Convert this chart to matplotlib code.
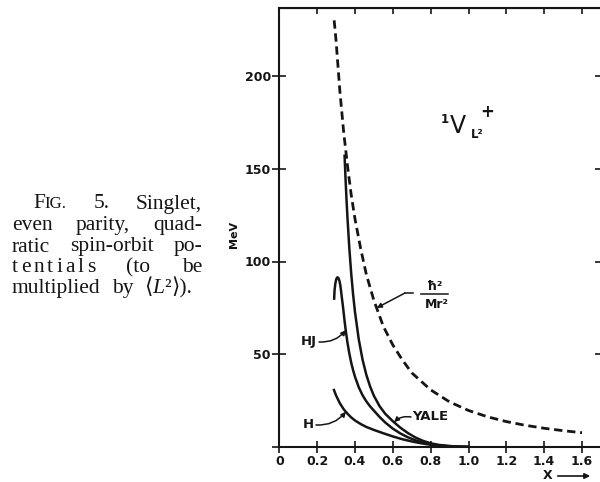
import matplotlib
matplotlib.use("Agg")
import matplotlib.pyplot as plt

# ---------------- data ----------------
free_x = [0.29, 0.30, 0.32, 0.34, 0.36, 0.38, 0.40, 0.43, 0.46, 0.50, 0.55, 0.60,
          0.65, 0.70, 0.80, 0.90, 1.00, 1.10, 1.20, 1.30, 1.40, 1.50, 1.60]
free_y = [230, 219, 192, 170, 152, 136, 123, 107, 93, 79, 65, 55,
          47, 40, 30.8, 24.3, 19.7, 16.3, 13.7, 11.7, 10.1, 8.8, 7.7]

yale_x = [0.345, 0.350, 0.355, 0.360, 0.370, 0.380, 0.390, 0.400, 0.420, 0.440, 0.460,
          0.480, 0.500, 0.530, 0.560, 0.600, 0.640, 0.680, 0.720, 0.760, 0.800,
          0.840, 0.880, 0.920, 0.960, 1.000]
yale_y = [157, 144.8, 133.9, 124.1, 107.3, 93.6, 82.3, 72.8, 58.0, 47.1, 38.9,
          32.6, 27.6, 22.0, 17.9, 13.9, 10.4, 7.5, 5.1, 3.3, 2.0,
          1.2, 0.7, 0.4, 0.2, 0.05]

hj_x = [0.290, 0.292, 0.296, 0.301, 0.307, 0.313, 0.318, 0.322, 0.326, 0.330, 0.335,
        0.340, 0.345, 0.350, 0.360, 0.370, 0.380, 0.390, 0.400, 0.420, 0.440, 0.460,
        0.480, 0.500, 0.530, 0.560, 0.600, 0.640, 0.680, 0.720, 0.760, 0.800,
        0.850, 0.900, 0.950, 1.000]
hj_y = [80, 84.5, 88, 90.5, 91.5, 91, 89.5, 87.5, 84.5, 81, 77,
        72.5, 68, 63.8, 56.4, 50.5, 45.5, 41.4, 37.9, 32.2, 27.9, 24.6,
        21.9, 19.6, 16.2, 13.2, 9.9, 7.3, 5.2, 3.6, 2.4, 1.5,
        0.8, 0.4, 0.15, 0.05]

h_x = [0.289, 0.300, 0.320, 0.340, 0.360, 0.380, 0.400, 0.430, 0.460, 0.480, 0.500,
       0.550, 0.600, 0.650, 0.700, 0.750, 0.800, 0.850, 0.900, 0.950, 1.000]
h_y = [30.7, 27.8, 23.6, 20.4, 18.0, 15.95, 14.3, 12.4, 10.8, 10.0, 9.2,
       7.4, 5.7, 4.2, 3.0, 2.0, 1.2, 0.65, 0.35, 0.15, 0.05]

x_ticks = [0, 0.2, 0.4, 0.6, 0.8, 1.0, 1.2, 1.4, 1.6]
x_tick_labels = ["0", "0.2", "0.4", "0.6", "0.8", "1.0", "1.2", "1.4", "1.6"]
y_ticks = [0, 50, 100, 150, 200]
y_tick_labels = ["", "50", "100", "150", "200"]

N, I = "normal", "italic"
caption_lines = [
    [[("F", 1.0, N), ("IG.", 0.78, N)], [("5.", 1.0, N)], [("Singlet,", 1.0, N)]],
    [[("even", 1.0, N)], [("parity,", 1.0, N)], [("quad-", 1.0, N)]],
    [[("ratic", 1.0, N)], [("spin-orbit", 1.0, N)], [("po-", 1.0, N)]],
    [[("tentials", 1.0, N)], [("(to", 1.0, N)], [("be", 1.0, N)]],
    [[("multiplied", 1.0, N)], [("by", 1.0, N)],
     [("\u27e8", 1.0, N), ("L", 1.0, I), ("\u00b2", 1.0, N), ("\u27e9).", 1.0, N)]],
]

# ---------------- figure ----------------
W, H = 600, 482
fig = plt.figure(figsize=(W / 100, H / 100), dpi=100)
INK = "#151515"
SANS = "DejaVu Sans"
SERIF = ["Liberation Serif", "DejaVu Serif"]


def fx(x):
    return x / W


def fy(y):
    return 1 - y / H


x_left, x_right_px, y_bot, y_top = 279.3, 602.5, 447.0, 8.0
px_per_x = 189.2
px_per_y = 1.855
ax = fig.add_axes([fx(x_left), fy(y_bot), (x_right_px - x_left) / W, (y_bot - y_top) / H])
ax.set_xlim(0, (x_right_px - x_left) / px_per_x)
ax.set_ylim(0, (y_bot - y_top) / px_per_y)

lw = 1.8
ax.plot(free_x, free_y, color=INK, lw=2.0, linestyle=(0, (3.0, 1.7)), solid_capstyle="butt")
ax.plot(yale_x, yale_y, color=INK, lw=lw)
ax.plot(hj_x, hj_y, color=INK, lw=lw)
ax.plot(h_x, h_y, color=INK, lw=lw)

for s in ax.spines.values():
    s.set_linewidth(1.5)
    s.set_color(INK)

ax.set_xticks(x_ticks)
ax.set_xticklabels(x_tick_labels, fontfamily=SANS, fontweight="bold", fontsize=9, color=INK)
ax.set_yticks(y_ticks)
ax.set_yticklabels(y_tick_labels, fontfamily=SANS, fontweight="bold", fontsize=9, color=INK)
ax.tick_params(axis="x", direction="inout", length=9, width=1.2, pad=1, colors=INK)
ax.tick_params(axis="y", direction="inout", length=10, width=1.2, pad=1, colors=INK)

top = ax.secondary_xaxis("top")
top.set_xticks(x_ticks[1:])
top.tick_params(direction="in", length=4, width=1.2, labeltop=False, colors=INK)
right = ax.secondary_yaxis("right")
right.set_yticks(y_ticks[1:])
right.tick_params(direction="in", length=6, width=1.2, labelright=False, colors=INK)

# curve labels with leaders
lab = dict(fontfamily=SANS, fontweight="bold", fontsize=9.5, color=INK)
arr = dict(arrowstyle="-|>", lw=1.1, color=INK, mutation_scale=7, shrinkA=0, shrinkB=0)


def d(px, py):
    return ((px - x_left) / px_per_x, (y_bot - py) / px_per_y)


ax.text(*d(317, 342), "HJ", ha="right", va="center", **lab)
ax.annotate("", xy=(0.352, 63), xytext=d(319, 342),
            arrowprops=dict(arr, connectionstyle="arc3,rad=0.25"))
ax.text(*d(314, 425), "H", ha="right", va="center", **lab)
ax.annotate("", xy=(0.352, 19), xytext=d(316, 425),
            arrowprops=dict(arr, connectionstyle="arc3,rad=0.25"))
ax.text(*d(412, 417), "YALE", ha="left", va="center", **lab)
ax.annotate("", xy=(0.607, 13.4), xytext=d(411, 417),
            arrowprops=dict(arr, connectionstyle="arc3,rad=0.25"))
ax.plot([d(405, 293)[0], d(413, 293)[0]], [d(405, 293)[1]] * 2, color=INK, lw=1.1)
ax.annotate("", xy=(0.515, 75), xytext=d(405, 293),
            arrowprops=dict(arr, connectionstyle="arc3,rad=0"))

# fraction hbar^2 / M r^2
fig.text(fx(435), fy(286), "ħ²", ha="center", va="center", fontfamily=SANS,
         fontweight="bold", fontsize=9, color=INK)
fig.add_artist(plt.Line2D([fx(421), fx(448)], [fy(293.5), fy(293.5)], color=INK, lw=1.1))
fig.text(fx(437), fy(304), "Mr²", ha="center", va="center", fontfamily=SANS,
         fontweight="bold", fontsize=9, color=INK)

# 1V+_{L^2}
fig.text(fx(444.5), fy(119.5), "1", ha="center", va="center", fontfamily=SANS,
         fontweight="bold", fontsize=8.5, color=INK)
fig.text(fx(458), fy(126), "V", ha="center", va="center", fontfamily=SANS, fontsize=17, color=INK)
fig.text(fx(487), fy(112), "+", ha="center", va="center", fontfamily=SANS,
         fontweight="bold", fontsize=12, color=INK)
fig.text(fx(477), fy(135), "L²", ha="center", va="center", fontfamily=SANS,
         fontweight="bold", fontsize=8.5, color=INK)

# axis labels
fig.text(fx(234), fy(234), "MeV", rotation=90, ha="center", va="center", fontfamily=SANS,
         fontweight="bold", fontsize=8, color=INK)
fig.text(fx(547.5), fy(475.5), "X", ha="center", va="center", fontfamily=SANS,
         fontweight="bold", fontsize=9, color=INK)
fig.add_artist(matplotlib.patches.FancyArrowPatch((fx(555), fy(476)), (fx(593), fy(476)),
               transform=fig.transFigure, arrowstyle="-|>", mutation_scale=8, lw=1.2, color=INK))

# ---------------- caption (justified) ----------------
renderer = fig.canvas.get_renderer()
CAP_FS = 15.5


def draw_word(x, ybase, pieces, ls=0.0, draw=True):
    total = 0.0
    for s, sc, st in pieces:
        chunks = list(s) if ls else [s]
        for ch in chunks:
            t = fig.text(fx(x + total), fy(ybase), ch, fontsize=CAP_FS * sc, fontfamily=SERIF,
                         fontstyle=st, ha="left", va="baseline", color=INK)
            w = t.get_window_extent(renderer).width
            if not draw:
                t.remove()
            total += w + ls
    if ls:
        total -= ls
    return total


line_geom = [(33, 202, 208.5, 0.0), (12, 202, 230, 0.0), (12, 202, 251.5, 0.0),
             (12, 202, 272.5, 3.0), (12, 192, 293, 0.0)]
for words, (x0, x1, yb, ls) in zip(caption_lines, line_geom):
    widths = []
    for i, w in enumerate(words):
        widths.append(draw_word(0, yb, w, ls if i == 0 else 0.0, draw=False))
    gap = max(4.0, (x1 - x0 - sum(widths)) / (len(words) - 1))
    x = x0
    for i, w in enumerate(words):
        draw_word(x, yb, w, ls if i == 0 else 0.0, draw=True)
        x += widths[i] + gap

fig.savefig("out.png", dpi=100)
